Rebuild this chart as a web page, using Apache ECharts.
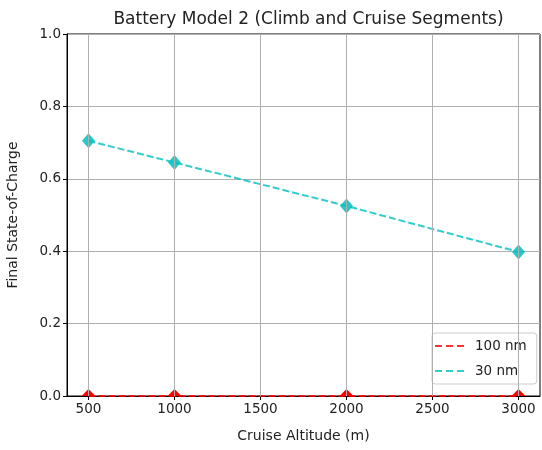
<!DOCTYPE html>
<html><head><meta charset="utf-8">
<script src="https://cdn.jsdelivr.net/npm/echarts@6/dist/echarts.min.js"></script>
<style>html,body{margin:0;padding:0;background:#fff}#chart{width:542px;height:450px}</style>
</head><body><div id="chart"></div>
<script>
// Final state-of-charge vs. cruise altitude for two mission ranges
const altitudes = [500, 1000, 2000, 3000];
const soc100nm = [0.0, 0.0, 0.0, 0.0];
const soc30nm = [0.705, 0.645, 0.525, 0.398];
const xTicks = [500, 1000, 1500, 2000, 2500, 3000];
const seriesNames = ['100 nm', '30 nm'];

const FONT = 'DejaVu Sans';
const RED = '#ff0000';
const CYAN = '#00bfbf';
const GRID = '#b0b0b0';
const dashIcon = 'path://M0,0h7v2h-7zM11,0h7v2h-7zM22,0h7v2h-7z';

const pairs = (ys) => altitudes.map((x, i) => [x, ys[i]]);

const chart = echarts.init(document.getElementById('chart'), null, {renderer: 'canvas'});
chart.setOption({
  animation: false,
  backgroundColor: '#fff',
  title: {
    text: 'Battery Model 2 (Climb and Cruise Segments)',
    left: 303.5, top: 6, textAlign: 'center',
    textStyle: {fontFamily: FONT, fontSize: 17, fontWeight: 'normal', color: '#222'}
  },
  grid: {left: 67, right: 2, top: 34, bottom: 54, outerBoundsMode: 'none', containLabel: false,
    show: true, borderColor: '#000', borderWidth: 1, backgroundColor: 'transparent'},
  legend: {
    left: 432, top: 333,
    orient: 'vertical',
    padding: [6, 10, 6, 3],
    itemWidth: 29, itemHeight: 2,
    itemGap: 11,
    backgroundColor: 'rgba(255,255,255,0.85)',
    borderColor: '#cccccc', borderWidth: 1, borderRadius: 3,
    textStyle: {fontFamily: FONT, fontSize: 13.5, color: '#222', padding: [0, 0, 0, 6]},
    data: [
      {name: seriesNames[0], icon: dashIcon, itemStyle: {color: RED, opacity: 0.8}},
      {name: seriesNames[1], icon: dashIcon, itemStyle: {color: CYAN, opacity: 0.8}}
    ]
  },
  xAxis: {
    type: 'value', min: 375, max: 3125,
    name: 'Cruise Altitude (m)', nameLocation: 'middle', nameGap: 33,
    nameTextStyle: {fontFamily: FONT, fontSize: 14, color: '#222', verticalAlign: 'top'},
    axisLine: {show: true, lineStyle: {color: '#000', width: 1}},
    axisTick: {show: true, length: 4, lineStyle: {color: '#000'}, customValues: xTicks},
    axisLabel: {show: true, fontFamily: FONT, fontSize: 13.5, color: '#222', margin: 6,
      customValues: xTicks, formatter: v => String(v)},
    splitLine: {show: false}
  },
  yAxis: {
    type: 'value', min: 0, max: 1, interval: 0.2,
    name: 'Final State-of-Charge', nameLocation: 'middle', nameGap: 47, nameRotate: 90,
    nameTextStyle: {fontFamily: FONT, fontSize: 14, color: '#222'},
    axisLine: {show: true, lineStyle: {color: '#000', width: 1}},
    axisTick: {show: true, length: 4, lineStyle: {color: '#000'}},
    axisLabel: {fontFamily: FONT, fontSize: 13.5, color: '#222', margin: 6, formatter: v => v.toFixed(1)},
    splitLine: {show: true, lineStyle: {color: GRID, width: 1}}
  },
  series: [
    {
      // vertical grid lines at the labelled altitude ticks
      type: 'line', z: 1, data: [], silent: true,
      markLine: {
        silent: true, symbol: 'none', label: {show: false},
        lineStyle: {color: GRID, width: 1, type: 'solid'},
        emphasis: {disabled: true},
        data: xTicks.map(v => ({xAxis: v}))
      }
    },
    {
      name: seriesNames[0], type: 'line', z: 3, clip: false,
      data: pairs(soc100nm),
      lineStyle: {color: RED, width: 2, type: [7, 3], opacity: 0.8},
      itemStyle: {color: RED},
      // upper half of the diamond marker (the lower half falls below the axes)
      symbol: 'triangle', symbolSize: [14, 7], symbolOffset: [0, -3.5], symbolKeepAspect: false,
      showAllSymbol: true
    },
    {
      name: seriesNames[1], type: 'line', z: 3, clip: false,
      data: pairs(soc30nm),
      lineStyle: {color: CYAN, width: 2, type: [7, 3], opacity: 0.8},
      itemStyle: {color: CYAN, opacity: 0.85},
      symbol: 'diamond', symbolSize: [13, 15],
      showAllSymbol: true
    }
  ]
});
</script>
</body></html>
